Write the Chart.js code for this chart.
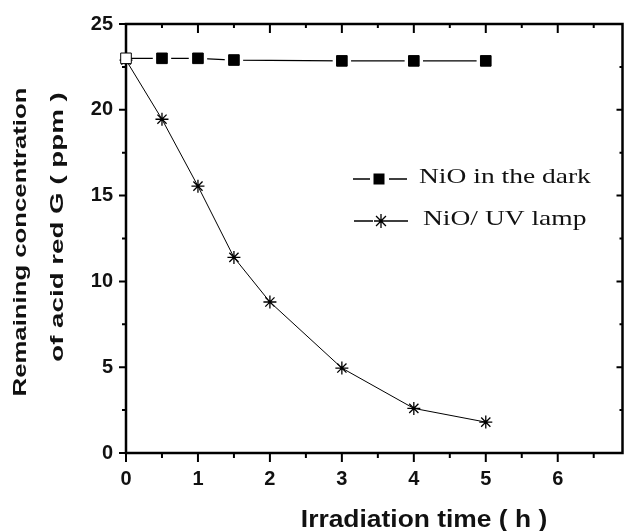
<!DOCTYPE html>
<html>
<head>
<meta charset="utf-8">
<script src="https://cdn.jsdelivr.net/npm/chart.js@4.4.1/dist/chart.umd.min.js"></script>
<style>
  html, body { margin: 0; padding: 0; background: #fff; }
  #wrap { width: 624px; height: 531px; }
</style>
</head>
<body>
<div id="wrap"><canvas id="chart" width="624" height="531"></canvas></div>
<script>
// values (time in h, concentration in ppm)
let darkTimes = [0, 0.5, 1, 1.5, 3, 4, 5];
let darkConc = [23.0, 23.0, 23.0, 22.9, 22.85, 22.85, 22.85];
let uvTimes = [0, 0.5, 1, 1.5, 2, 3, 4, 5];
let uvConc = [22.9, 19.45, 15.55, 11.4, 8.8, 4.95, 2.6, 1.8];

let xTicks = [0, 1, 2, 3, 4, 5, 6];
let yTicks = [0, 5, 10, 15, 20, 25];
let legendLabels = ["NiO in the dark", "NiO/ UV lamp"];
let xTitle = "Irradiation time ( h )";
let yTitle = ["Remaining concentration", "of acid red G ( ppm )"];

function toPoints(xs, ys) {
    return xs.map((x, i) => ({ x: x, y: ys[i] }));
}

let darkPoints = toPoints(darkTimes, darkConc);
let uvPoints = toPoints(uvTimes, uvConc);

// text squeezed/stretched along its own direction, like the scanned figure
function stretchText(ctx, text, x, y, sx, angle) {
    ctx.save();
    ctx.translate(x, y);
    ctx.rotate(angle);
    ctx.scale(sx, 1);
    ctx.fillText(text, 0, 0);
    ctx.restore();
}

function drawStar(ctx, cx, cy, r) {
    ctx.beginPath();
    for (let k = 0; k < 4; k++) {
        let a = k * Math.PI / 4;
        ctx.moveTo(cx - Math.cos(a) * r, cy - Math.sin(a) * r);
        ctx.lineTo(cx + Math.cos(a) * r, cy + Math.sin(a) * r);
    }
    ctx.stroke();
}

const framePlugin = {
    id: 'frame',
    beforeDatasetsDraw(chart) {
        const { ctx, chartArea: a, scales: { x, y } } = chart;
        ctx.save();
        ctx.strokeStyle = '#000';
        ctx.lineWidth = 2.5;
        ctx.strokeRect(a.left, a.top, a.right - a.left, a.bottom - a.top);
        ctx.lineWidth = 2;
        ctx.beginPath();
        for (let v = 0; v <= x.max; v += 0.5) {
            let px = x.getPixelForValue(v);
            let big = v % 1 === 0;
            ctx.moveTo(px, a.bottom);
            ctx.lineTo(px, a.bottom + (big ? 9 : 5));
            ctx.moveTo(px, a.top);
            ctx.lineTo(px, a.top + (big ? 9 : 4));
        }
        for (let v = 0; v <= y.max; v += 2.5) {
            let py = y.getPixelForValue(v);
            let big = v % 5 === 0;
            ctx.moveTo(a.left, py);
            ctx.lineTo(a.left - (big ? 7 : 4), py);
            ctx.moveTo(a.right, py);
            ctx.lineTo(a.right - (big ? 6 : 3), py);
        }
        ctx.stroke();
        ctx.restore();
    },
    afterDraw(chart) {
        const ctx = chart.ctx;
        ctx.save();
        ctx.fillStyle = '#111';

        // axis titles
        ctx.font = 'bold 18px "Liberation Sans", Arial, sans-serif';
        ctx.textAlign = 'center';
        ctx.textBaseline = 'middle';
        stretchText(ctx, yTitle[0], 21, 242, 1.43, -Math.PI / 2);
        stretchText(ctx, yTitle[1], 58, 227, 1.54, -Math.PI / 2);

        ctx.font = 'bold 24px "Liberation Sans", Arial, sans-serif';
        ctx.textBaseline = 'alphabetic';
        stretchText(ctx, xTitle, 424, 527, 1.1, 0);

        // legend inside the plot
        ctx.strokeStyle = '#000';
        ctx.fillStyle = '#000';
        ctx.lineWidth = 1.3;
        ctx.beginPath();
        ctx.moveTo(353, 179); ctx.lineTo(370, 179);
        ctx.moveTo(389, 179); ctx.lineTo(407, 179);
        ctx.moveTo(354, 221); ctx.lineTo(373, 221);
        ctx.moveTo(388, 221); ctx.lineTo(408, 221);
        ctx.stroke();
        ctx.fillRect(373.5, 173.5, 11, 11);
        drawStar(ctx, 381, 221, 7);

        ctx.fillStyle = '#111';
        ctx.font = '22px "Liberation Serif", "Times New Roman", serif';
        ctx.textAlign = 'left';
        ctx.textBaseline = 'alphabetic';
        stretchText(ctx, legendLabels[0], 419, 183, 1.25, 0);
        stretchText(ctx, legendLabels[1], 423, 225, 1.25, 0);
        ctx.restore();
    }
};

const tickFont = { family: '"Liberation Sans", Arial, sans-serif', size: 20, weight: 'bold' };

new Chart(document.getElementById('chart'), {
    type: 'scatter',
    data: {
        datasets: [
            {
                label: legendLabels[0],
                data: darkPoints,
                showLine: false,
                pointStyle: 'rect',
                pointRadius: 7.5,
                pointBackgroundColor: ctx => ctx.dataIndex === 0 ? '#fff' : '#000',
                pointBorderColor: '#000',
                pointBorderWidth: 1,
                clip: false,
                order: 1
            },
            {
                label: legendLabels[1],
                data: uvPoints,
                showLine: false,
                pointStyle: 'star',
                pointRadius: 6.5,
                pointBorderColor: '#000',
                pointBorderWidth: 1.3,
                clip: false,
                order: 1
            },
            {
                // white halo so the dark line stops short of each square
                data: darkPoints,
                showLine: false,
                pointStyle: 'rect',
                pointRadius: ctx => ctx.dataIndex === 0 ? 0 : 13,
                pointBackgroundColor: '#fff',
                pointBorderWidth: 0,
                clip: false,
                order: 2
            },
            {
                data: darkPoints,
                showLine: true,
                borderColor: '#000',
                borderWidth: 1.2,
                pointRadius: 0,
                tension: 0,
                order: 3
            },
            {
                data: uvPoints,
                showLine: true,
                borderColor: '#000',
                borderWidth: 1,
                pointRadius: 0,
                tension: 0,
                order: 3
            }
        ]
    },
    options: {
        responsive: false,
        animation: false,
        devicePixelRatio: 1,
        layout: { autoPadding: false, padding: { top: 24, right: 1.5, left: 0, bottom: 0 } },
        plugins: {
            legend: { display: false },
            tooltip: { enabled: false }
        },
        scales: {
            x: {
                type: 'linear',
                min: 0,
                max: 6.9,
                grid: { display: false, drawTicks: false },
                border: { display: false },
                afterBuildTicks: scale => { scale.ticks = xTicks.map(v => ({ value: v })); },
                afterFit: scale => {
                    scale.height = 78;
                    scale.paddingLeft = 0;
                    scale.paddingRight = 0;
                },
                ticks: {
                    color: '#111',
                    font: tickFont,
                    padding: 14,
                    maxRotation: 0,
                    autoSkip: false
                }
            },
            y: {
                type: 'linear',
                min: 0,
                max: 25,
                grid: { display: false, drawTicks: false },
                border: { display: false },
                afterBuildTicks: scale => { scale.ticks = yTicks.map(v => ({ value: v })); },
                afterFit: scale => {
                    scale.width = 126;
                    scale.paddingTop = 0;
                    scale.paddingBottom = 0;
                },
                ticks: {
                    color: '#111',
                    font: tickFont,
                    padding: 13
                }
            }
        }
    },
    plugins: [framePlugin]
});
</script>
</body>
</html>
